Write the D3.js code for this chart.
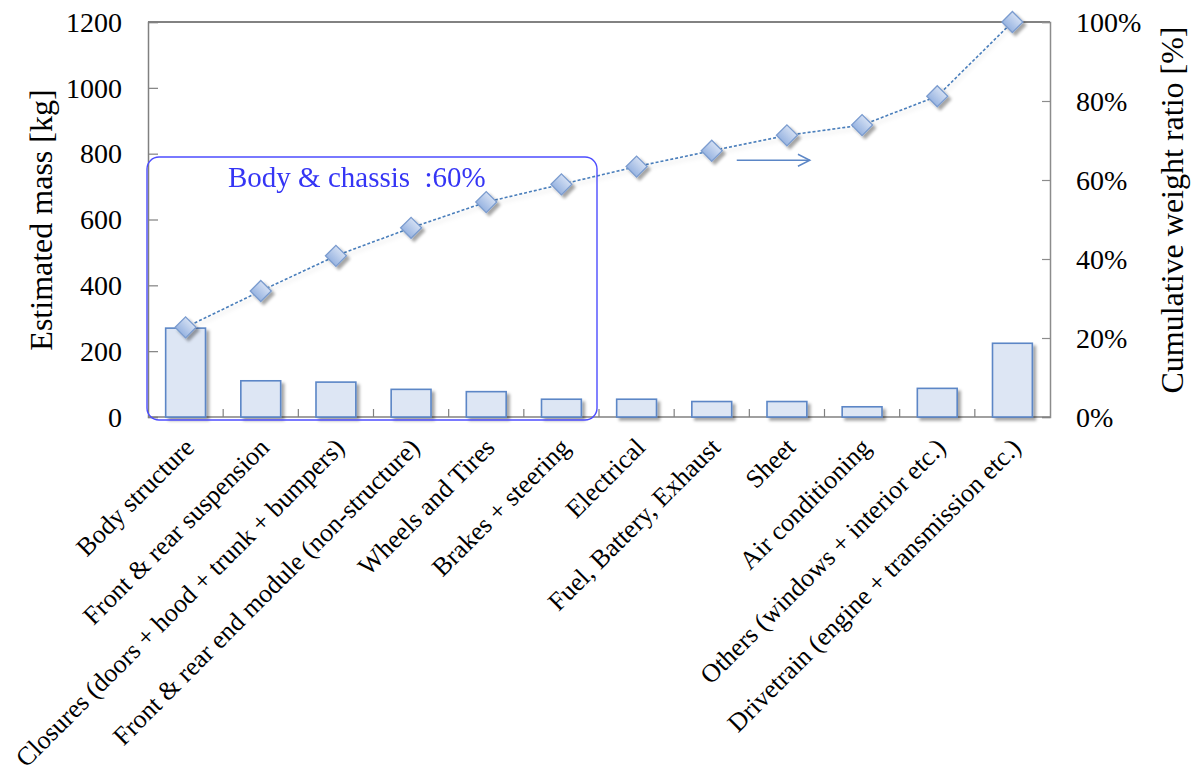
<!DOCTYPE html>
<html>
<head>
<meta charset="utf-8">
<script src="https://cdn.jsdelivr.net/npm/d3@7"></script>
<style>
  body { margin: 0; background: #fff; }
  svg text { font-family: "Liberation Serif", "Times New Roman", serif; fill: #000; }
</style>
</head>
<body>
<script>
// categories and values
var categories = ["Body structure", "Front & rear suspension", "Closures (doors + hood + trunk + bumpers)",
  "Front & rear end module (non-structure)", "Wheels and Tires", "Brakes + steering", "Electrical",
  "Fuel, Battery, Exhaust", "Sheet", "Air conditioning", "Others (windows + interior etc.)",
  "Drivetrain (engine + transmission etc.)"];
var mass = [270, 110, 106, 84, 77, 54, 54, 47, 47, 31, 87, 224];
var cumulative = [0.227, 0.319, 0.408, 0.479, 0.544, 0.589, 0.634, 0.674, 0.713, 0.739, 0.812, 1.0];
var massTicks = [0, 200, 400, 600, 800, 1000, 1200];
var ratioTicks = [0, 0.2, 0.4, 0.6, 0.8, 1.0];

var width = 1199, height = 776;
var plotLeft = 148, plotRight = 1050, plotTop = 22, plotBottom = 417;

var svg = d3.select("body").append("svg")
  .attr("width", width)
  .attr("height", height);

var defs = svg.append("defs");
var shadow = defs.append("filter").attr("id", "shadow")
  .attr("x", "-30%").attr("y", "-30%").attr("width", "160%").attr("height", "160%");
shadow.append("feDropShadow").attr("dx", 3).attr("dy", 3).attr("stdDeviation", 1.8)
  .attr("flood-color", "#000").attr("flood-opacity", 0.35);
var lineShadow = defs.append("filter").attr("id", "lineshadow")
  .attr("x", "-10%").attr("y", "-10%").attr("width", "120%").attr("height", "130%");
lineShadow.append("feDropShadow").attr("dx", 1).attr("dy", 3).attr("stdDeviation", 2)
  .attr("flood-color", "#000").attr("flood-opacity", 0.15);
var grad = defs.append("linearGradient").attr("id", "diamond")
  .attr("x1", 0).attr("y1", 0).attr("x2", 0).attr("y2", 1);
grad.append("stop").attr("offset", "0%").attr("stop-color", "#d3dff3");
grad.append("stop").attr("offset", "100%").attr("stop-color", "#98b4e1");

var x = d3.scaleBand()
  .domain(categories)
  .range([plotLeft, plotRight])
  .paddingInner(0.47)
  .paddingOuter(0.235);

var y = d3.scaleLinear().domain([0, 1200]).range([plotBottom, plotTop]);
var y2 = d3.scaleLinear().domain([0, 1]).range([plotBottom, plotTop]);

// frame top
svg.append("line").attr("x1", plotLeft).attr("x2", plotRight).attr("y1", plotTop).attr("y2", plotTop)
  .attr("stroke", "#595959").attr("stroke-width", 1.5);

// left axis
var yAxis = d3.axisRight(y).tickValues(massTicks).tickSize(10).tickFormat("");
var gy = svg.append("g").attr("transform", "translate(" + plotLeft + ",0)").call(yAxis);
gy.select(".domain").attr("stroke", "#808080").attr("stroke-width", 1.5);
gy.selectAll(".tick line").attr("stroke", "#808080").attr("stroke-width", 1.2);
svg.selectAll(".ylab").data(massTicks).enter().append("text")
  .attr("class", "ylab")
  .attr("x", 122)
  .attr("y", d => y(d))
  .attr("dy", "0.35em")
  .attr("text-anchor", "end")
  .style("font-size", "28px")
  .text(d => d);

// right axis
var y2Axis = d3.axisLeft(y2).tickValues(ratioTicks).tickSize(8).tickFormat("");
var gy2 = svg.append("g").attr("transform", "translate(" + plotRight + ",0)").call(y2Axis);
gy2.select(".domain").attr("stroke", "#8c8c8c").attr("stroke-width", 1.5);
gy2.selectAll(".tick line").attr("stroke", "#8c8c8c").attr("stroke-width", 1.2);
svg.selectAll(".y2lab").data(ratioTicks).enter().append("text")
  .attr("class", "y2lab")
  .attr("x", 1076)
  .attr("y", d => y2(d))
  .attr("dy", "0.35em")
  .style("font-size", "28px")
  .text(d => Math.round(d * 100) + "%");

// bottom axis with ticks between categories
var gap = x.step() - x.bandwidth();
svg.append("line").attr("x1", plotLeft).attr("x2", plotRight).attr("y1", plotBottom).attr("y2", plotBottom)
  .attr("stroke", "#808080").attr("stroke-width", 1.5);
svg.selectAll(".xtick").data(categories.slice(1)).enter().append("line")
  .attr("class", "xtick")
  .attr("x1", d => x(d) - gap / 2)
  .attr("x2", d => x(d) - gap / 2)
  .attr("y1", plotBottom).attr("y2", plotBottom - 8)
  .attr("stroke", "#808080").attr("stroke-width", 1.2);

// bars
svg.append("g").attr("filter", "url(#shadow)")
  .selectAll("rect").data(mass).enter().append("rect")
  .attr("x", (d, i) => x(categories[i]))
  .attr("y", d => y(d))
  .attr("width", x.bandwidth())
  .attr("height", d => plotBottom - y(d))
  .attr("fill", "#dde6f4")
  .attr("stroke", "#5b86c6")
  .attr("stroke-width", 1.6);

// cumulative line
var cx = (d, i) => x(categories[i]) + x.bandwidth() / 2;
var line = d3.line().x(cx).y(d => y2(d));
svg.append("path").datum(cumulative)
  .attr("d", line)
  .attr("fill", "none")
  .attr("stroke", "#4a7ebb")
  .attr("stroke-width", 1.6)
  .attr("stroke-dasharray", "3,2")
  .attr("filter", "url(#lineshadow)");

svg.append("g").attr("filter", "url(#shadow)")
  .selectAll("path").data(cumulative).enter().append("path")
  .attr("d", d3.symbol().type(d3.symbolSquare).size(220))
  .attr("transform", (d, i) => "translate(" + cx(d, i) + "," + y2(d) + ") rotate(45)")
  .attr("fill", "url(#diamond)")
  .attr("stroke", "#7b9ccf")
  .attr("stroke-width", 1.3);

// category labels
svg.selectAll(".xlab").data(categories).enter().append("text")
  .attr("class", "xlab")
  .attr("text-anchor", "end")
  .attr("transform", d => "translate(" + (x(d) + x.bandwidth() / 2 + 10) + ",449) rotate(-45)")
  .style("font-size", "26px")
  .text(d => d);

// axis titles
svg.append("text")
  .attr("transform", "translate(52,220) rotate(-90)")
  .attr("text-anchor", "middle")
  .style("font-size", "32px")
  .text("Estimated mass [kg]");
svg.append("text")
  .attr("transform", "translate(1183,210) rotate(-90)")
  .attr("text-anchor", "middle")
  .style("font-size", "32px")
  .text("Cumulative weight ratio [%]");

// annotation box around body & chassis
var boxRight = x(categories[6]) - gap / 2 - 2;
svg.append("rect")
  .attr("x", plotLeft - 1)
  .attr("y", y(790))
  .attr("width", boxRight - plotLeft + 1)
  .attr("height", plotBottom + 3 - y(790))
  .attr("rx", 12)
  .attr("fill", "none")
  .attr("stroke", "#4d4dff")
  .attr("stroke-width", 1.4);
svg.append("text")
  .attr("x", 228)
  .attr("y", 187)
  .style("font-size", "29px")
  .style("fill", "#3535f5")
  .style("white-space", "pre")
  .text("Body & chassis  :60%");

// arrow pointing to the right axis
var ax0 = cx(0, 7) + 25, ax1 = cx(0, 8) + 23, ay = y2(0.65);
svg.append("line").attr("x1", ax0).attr("x2", ax1).attr("y1", ay).attr("y2", ay)
  .attr("stroke", "#5b86c6").attr("stroke-width", 1.4);
svg.append("path")
  .attr("d", "M" + (ax1 - 12) + "," + (ay - 6) + "L" + ax1 + "," + ay + "L" + (ax1 - 12) + "," + (ay + 6))
  .attr("fill", "none").attr("stroke", "#5b86c6").attr("stroke-width", 1.4);
</script>
</body>
</html>
